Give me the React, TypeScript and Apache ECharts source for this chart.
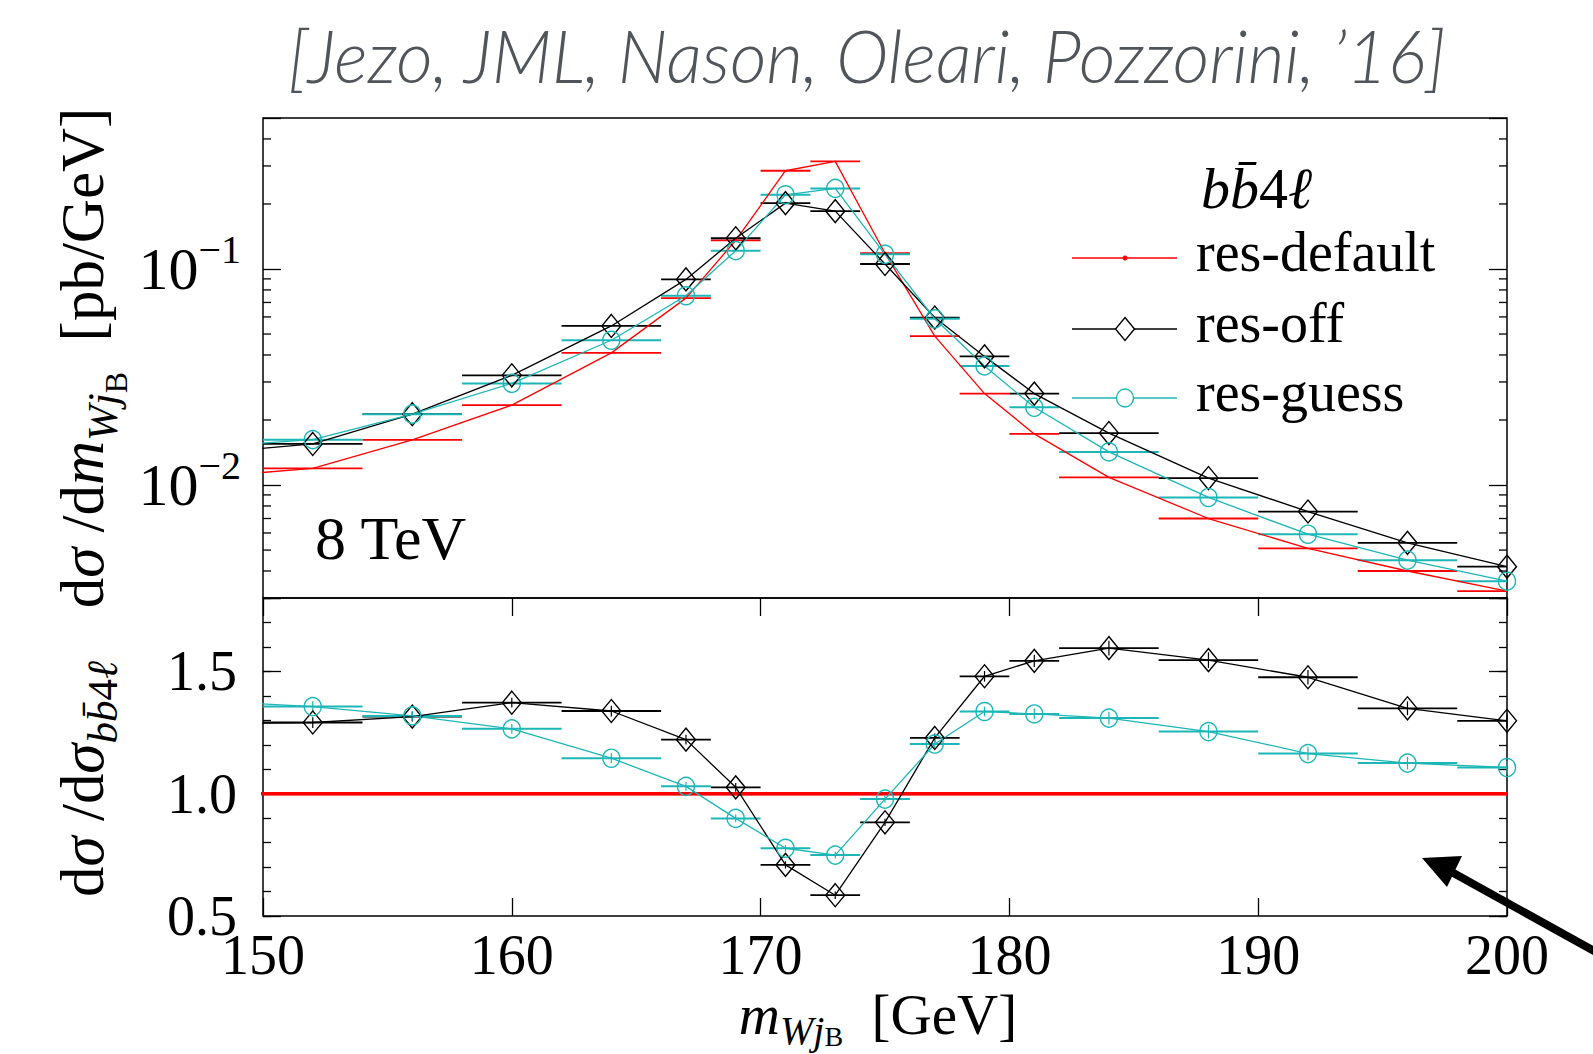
import React, { useEffect, useRef } from "react";
import * as echarts from "echarts";

// ---------- data ----------
const massCenters = [148, 152, 156, 160, 164, 167, 169, 171, 173, 175, 177, 179, 181, 184, 188, 192, 196, 200];
const binLow = [146, 150, 154, 158, 162, 166, 168, 170, 172, 174, 176, 178, 180, 182, 186, 190, 194, 198];
const binHigh = [150, 154, 158, 162, 166, 168, 170, 172, 174, 176, 178, 180, 182, 186, 190, 194, 198, 202];

const xsecDefault = [0.01096, 0.01194, 0.01618, 0.02344, 0.0409, 0.0733, 0.1358, 0.285, 0.315, 0.1183, 0.0489, 0.0265, 0.01725, 0.01085, 0.007, 0.00509, 0.004, 0.00323];
const xsecOff = [0.0141, 0.0155, 0.02128, 0.0322, 0.0545, 0.0895, 0.1388, 0.2018, 0.1853, 0.1055, 0.0596, 0.0394, 0.0265, 0.0174, 0.01077, 0.00754, 0.0054, 0.00419];
const xsecGuess = [0.0151, 0.01622, 0.02128, 0.02955, 0.0468, 0.0752, 0.1216, 0.2206, 0.236, 0.117, 0.0588, 0.0356, 0.0229, 0.01424, 0.00876, 0.00592, 0.00449, 0.00359];

const ratioDefault = [1, 1, 1, 1, 1, 1, 1, 1, 1, 1, 1, 1, 1, 1, 1, 1, 1, 1];
const ratioOff = [1.286, 1.291, 1.315, 1.372, 1.338, 1.221, 1.026, 0.709, 0.585, 0.883, 1.228, 1.48, 1.543, 1.595, 1.546, 1.476, 1.349, 1.298];
const ratioGuess = [1.378, 1.356, 1.318, 1.265, 1.145, 1.03, 0.899, 0.777, 0.749, 0.978, 1.203, 1.336, 1.326, 1.309, 1.254, 1.164, 1.125, 1.107];
const errRatioOff = [0.02, 0.022, 0.02, 0.02, 0.022, 0.02, 0.018, 0.015, 0.015, 0.015, 0.018, 0.022, 0.025, 0.03, 0.032, 0.03, 0.028, 0.03];
const errRatioGuess = [0.02, 0.022, 0.02, 0.02, 0.02, 0.018, 0.016, 0.014, 0.014, 0.014, 0.016, 0.02, 0.022, 0.026, 0.028, 0.028, 0.026, 0.028];

const logMinorTicks = [0.004, 0.005, 0.006, 0.007, 0.008, 0.009, 0.02, 0.03, 0.04, 0.05, 0.06, 0.07, 0.08, 0.09, 0.2, 0.3, 0.4];

const seriesNames = ["res-default", "res-off", "res-guess"];
const titleText = "[Jezo, JML, Nason, Oleari, Pozzorini, \u201916]";
const energyLabel = "8 TeV";

// ---------- style ----------
const W = 1593;
const H = 1054;
const SERIF = '"Liberation Serif", "DejaVu Serif", serif';
const RED = "#ff0000";
const BLACK = "#000000";
const CYAN = "#1cb6b6";
const DIAMOND_SIZE = [19, 23];
const CIRCLE_SIZE = [17, 18];

function points(vals: number[]) {
  return massCenters.map((x, i) => [x, vals[i]]);
}
function bars(vals: number[], errs?: number[]) {
  return massCenters.map((x, i) => [binLow[i], binHigh[i], vals[i], errs ? errs[i] : 0, x]);
}

function errorBarSeries(xi: number, yi: number, data: number[][], color: string, width: number) {
  return {
    type: "custom",
    xAxisIndex: xi,
    yAxisIndex: yi,
    silent: true,
    z: 3,
    data,
    encode: { x: [0, 1], y: 2 },
    renderItem: (params: any, api: any) => {
      const cs = params.coordSys;
      const lo = api.value(0);
      const hi = api.value(1);
      const v = api.value(2);
      const e = api.value(3);
      const xc = api.value(4);
      const a = api.coord([lo, v]);
      const b = api.coord([hi, v]);
      const x1 = Math.max(a[0], cs.x);
      const x2 = Math.min(b[0], cs.x + cs.width);
      const children: any[] = [];
      if (x2 > x1) {
        children.push({ type: "line", shape: { x1, y1: a[1], x2, y2: a[1] }, style: { stroke: color, lineWidth: width } });
      }
      if (e > 0) {
        const c = api.coord([xc, v - e]);
        const d = api.coord([xc, v + e]);
        if (c[0] >= cs.x - 0.5 && c[0] <= cs.x + cs.width + 0.5) {
          children.push({ type: "line", shape: { x1: c[0], y1: c[1], x2: d[0], y2: d[1] }, style: { stroke: color, lineWidth: 1.2 } });
        }
      }
      return { type: "group", children };
    },
  };
}

function lineSeries(name: string, xi: number, yi: number, data: number[][], color: string, symbol: string, symbolSize: any, lw: number) {
  return {
    type: "line",
    name,
    xAxisIndex: xi,
    yAxisIndex: yi,
    data,
    clip: true,
    z: 4,
    symbol,
    symbolSize,
    showSymbol: symbol !== "none",
    showAllSymbol: true,
    lineStyle: { color, width: lw },
    itemStyle: { color: "rgba(255,255,255,0)", borderColor: color, borderWidth: 1.4 },
    emphasis: { disabled: true },
  };
}

function fitScale(text: string, font: string, target: number) {
  const c = document.createElement("canvas").getContext("2d");
  if (!c) return 1;
  c.font = font;
  const w = c.measureText(text).width;
  return w > 0 ? target / w : 1;
}

const tickStyle = { color: "#000", width: 1.3 };

function buildOption() {
  const titleFont = "italic 300 74px Lato";
  const titleScale = fitScale(titleText, titleFont, 1160);

  const legendRows = [
    { name: seriesNames[0], color: RED, marker: "dot", y: 258 },
    { name: seriesNames[1], color: BLACK, marker: "diamond", y: 329 },
    { name: seriesNames[2], color: CYAN, marker: "circle", y: 398 },
  ];
  const legendGraphics: any[] = [];
  legendRows.forEach((r) => {
    legendGraphics.push({ type: "line", shape: { x1: 1072, y1: r.y, x2: 1177, y2: r.y }, style: { stroke: r.color, lineWidth: 1.4 } });
    if (r.marker === "dot") {
      legendGraphics.push({ type: "circle", shape: { cx: 1125, cy: r.y, r: 2.5 }, style: { fill: r.color } });
    } else if (r.marker === "diamond") {
      legendGraphics.push({
        type: "polygon",
        shape: { points: [[1125, r.y - 11.5], [1134.5, r.y], [1125, r.y + 11.5], [1115.5, r.y]] },
        style: { fill: "#fff", stroke: r.color, lineWidth: 1.4 },
      });
    } else {
      legendGraphics.push({ type: "ellipse", shape: { cx: 1125, cy: r.y, rx: 8.5, ry: 9 }, style: { fill: "#fff", stroke: r.color, lineWidth: 1.4 } });
    }
    legendGraphics.push({
      type: "text",
      x: 1196,
      y: r.y - 6,
      style: { text: r.name, fontSize: 56, fontFamily: SERIF, fill: "#000", verticalAlign: "middle", align: "left" },
    });
  });

  const yTitleRich = {
    r: { fontSize: 61, fontFamily: SERIF, color: "#000", lineHeight: 104 },
    i: { fontSize: 61, fontFamily: SERIF, fontStyle: "italic", color: "#000", lineHeight: 104 },
    s: { fontSize: 43, fontFamily: SERIF, fontStyle: "italic", color: "#000", verticalAlign: "bottom", padding: [0, 0, 10, 0] },
    sr: { fontSize: 43, fontFamily: SERIF, color: "#000", verticalAlign: "bottom", padding: [0, 0, 10, 0] },
    ss: { fontSize: 32, fontFamily: SERIF, color: "#000", verticalAlign: "bottom", padding: [0, 0, 2, 0] },
  };
  const xTitleRich = {
    r: { fontSize: 57, fontFamily: SERIF, color: "#000", lineHeight: 72 },
    i: { fontSize: 57, fontFamily: SERIF, fontStyle: "italic", color: "#000", lineHeight: 72 },
    s: { fontSize: 40, fontFamily: SERIF, fontStyle: "italic", color: "#000", verticalAlign: "bottom" },
    ss: { fontSize: 28, fontFamily: SERIF, color: "#000", verticalAlign: "bottom" },
  };

  return {
    animation: false,
    backgroundColor: "#ffffff",
    grid: [
      { left: 263, top: 118, width: 1244, height: 480, show: true, borderColor: "#000", borderWidth: 1.5, backgroundColor: "transparent", outerBoundsMode: "none" },
      { left: 263, top: 598, width: 1244, height: 318, show: true, borderColor: "#000", borderWidth: 1.5, backgroundColor: "transparent", outerBoundsMode: "none" },
    ],
    xAxis: [
      { gridIndex: 0, type: "value", min: 150, max: 200, interval: 10, axisLine: { show: false }, axisTick: { show: false }, axisLabel: { show: false }, splitLine: { show: false } },
      {
        gridIndex: 1, type: "value", position: "bottom", min: 150, max: 200, interval: 10,
        axisLine: { show: false }, splitLine: { show: false },
        axisTick: { inside: true, length: 18, lineStyle: tickStyle },
        axisLabel: { fontSize: 56, lineHeight: 46, fontFamily: SERIF, color: "#000", margin: 16 },
      },
      {
        gridIndex: 1, type: "value", position: "top", min: 150, max: 200, interval: 10,
        axisLine: { show: false }, splitLine: { show: false },
        axisTick: { inside: true, length: 18, lineStyle: tickStyle }, axisLabel: { show: false },
      },
    ],
    yAxis: [
      {
        gridIndex: 0, type: "log", min: 0.003, max: 0.5, position: "left",
        axisLine: { show: false }, splitLine: { show: false },
        axisTick: { inside: true, length: 18, lineStyle: tickStyle },
        axisLabel: {
          margin: 22,
          formatter: (v: number) => {
            const l = Math.log10(v);
            const e = Math.round(l);
            if (Math.abs(l - e) > 1e-6) return "";
            return `{b|10}{s|\u2212${-e}}`;
          },
          rich: {
            b: { fontSize: 60, fontFamily: SERIF, color: "#000", lineHeight: 80 },
            s: { fontSize: 40, fontFamily: SERIF, color: "#000", verticalAlign: "top" },
          },
        },
      },
      {
        gridIndex: 0, type: "log", min: 0.003, max: 0.5, position: "right",
        axisLine: { show: false }, splitLine: { show: false },
        axisTick: { inside: true, length: 18, lineStyle: tickStyle }, axisLabel: { show: false },
      },
      {
        gridIndex: 1, type: "value", min: 0.5, max: 1.8, interval: 0.5, position: "left",
        axisLine: { show: false }, splitLine: { show: false },
        axisTick: { inside: true, length: 18, lineStyle: tickStyle },
        axisLabel: {
          fontSize: 56, fontFamily: SERIF, color: "#000", margin: 26,
          formatter: (v: number) => (Math.abs(v - 1.8) < 1e-6 ? "" : v.toFixed(1)),
        },
      },
      {
        gridIndex: 1, type: "value", min: 0.5, max: 1.8, interval: 0.1, position: "left",
        axisLine: { show: false }, splitLine: { show: false },
        axisTick: { inside: true, length: 8, lineStyle: tickStyle }, axisLabel: { show: false },
      },
      {
        gridIndex: 1, type: "value", min: 0.5, max: 1.8, interval: 0.5, position: "right",
        axisLine: { show: false }, splitLine: { show: false },
        axisTick: { inside: true, length: 18, lineStyle: tickStyle }, axisLabel: { show: false },
      },
      {
        gridIndex: 1, type: "value", min: 0.5, max: 1.8, interval: 0.1, position: "right",
        axisLine: { show: false }, splitLine: { show: false },
        axisTick: { inside: true, length: 8, lineStyle: tickStyle }, axisLabel: { show: false },
      },
    ],
    series: [
      // log minor ticks (left and right)
      {
        type: "custom", xAxisIndex: 0, yAxisIndex: 0, silent: true, z: 5,
        data: logMinorTicks.map((v) => [150, v]),
        encode: { x: 0, y: 1 },
        renderItem: (params: any, api: any) => {
          const cs = params.coordSys;
          const y = api.coord([api.value(0), api.value(1)])[1];
          return {
            type: "group",
            children: [
              { type: "line", shape: { x1: cs.x, y1: y, x2: cs.x + 8, y2: y }, style: { stroke: "#000", lineWidth: 1.3 } },
              { type: "line", shape: { x1: cs.x + cs.width - 8, y1: y, x2: cs.x + cs.width, y2: y }, style: { stroke: "#000", lineWidth: 1.3 } },
            ],
          };
        },
      },
      // top panel
      errorBarSeries(0, 0, bars(xsecDefault), RED, 1.8),
      lineSeries(seriesNames[0], 0, 0, points(xsecDefault), RED, "none", 3, 1.3),
      errorBarSeries(0, 0, bars(xsecOff), BLACK, 1.8),
      lineSeries(seriesNames[1], 0, 0, points(xsecOff), BLACK, "diamond", DIAMOND_SIZE, 1.3),
      errorBarSeries(0, 0, bars(xsecGuess), CYAN, 2),
      lineSeries(seriesNames[2], 0, 0, points(xsecGuess), CYAN, "circle", CIRCLE_SIZE, 1.3),
      // ratio panel
      errorBarSeries(1, 2, bars(ratioDefault), RED, 3),
      lineSeries(seriesNames[0], 1, 2, points(ratioDefault), RED, "none", 3, 3.5),
      errorBarSeries(1, 2, bars(ratioOff, errRatioOff), BLACK, 1.8),
      lineSeries(seriesNames[1], 1, 2, points(ratioOff), BLACK, "diamond", DIAMOND_SIZE, 1.3),
      errorBarSeries(1, 2, bars(ratioGuess, errRatioGuess), CYAN, 2),
      lineSeries(seriesNames[2], 1, 2, points(ratioGuess), CYAN, "circle", CIRCLE_SIZE, 1.3),
    ],
    graphic: [
      {
        type: "text", x: 288, y: 54, scaleX: titleScale, z: 10,
        style: { text: titleText, font: titleFont, fill: "#50555c", verticalAlign: "middle", align: "left" },
      },
      {
        type: "text", x: 315, y: 538, z: 10,
        style: { text: energyLabel, fontSize: 62, fontFamily: SERIF, fill: "#000", verticalAlign: "middle", align: "left" },
      },
      {
        type: "text", x: 1201, y: 188, z: 10,
        style: {
          text: "{i|bb\u0304}{r|4}{i|\u2113}", verticalAlign: "middle", align: "left",
          rich: {
            i: { fontSize: 58, fontFamily: SERIF, fontStyle: "italic", fill: "#000" },
            r: { fontSize: 58, fontFamily: SERIF, fill: "#000" },
          },
        },
      },
      ...legendGraphics,
      // y title (top panel)
      {
        type: "text", x: 82, y: 358, rotation: Math.PI / 2, z: 10,
        style: {
          text: "{r|d}{i|\u03c3}{r| /d}{i|m}{s|Wj}{ss|B}{r|  [pb/GeV]}",
          align: "center", verticalAlign: "middle",
          rich: yTitleRich,
        },
      },
      // y title (ratio panel)
      {
        type: "text", x: 82, y: 779, rotation: Math.PI / 2, z: 10,
        style: {
          text: "{r|d}{i|\u03c3}{r| /d}{i|\u03c3}{s|bb\u0304}{sr|4}{s|\u2113}",
          align: "center", verticalAlign: "middle",
          rich: yTitleRich,
        },
      },
      // x title
      {
        type: "text", x: 878, y: 1014, z: 10,
        style: {
          text: "{i|m}{s|Wj}{ss|B}{r|  [GeV]}",
          align: "center", verticalAlign: "middle",
          rich: xTitleRich,
        },
      },
      // arrow
      { type: "line", z: 20, shape: { x1: 1605, y1: 957, x2: 1448, y2: 870 }, style: { stroke: "#000", lineWidth: 8 } },
      { type: "polygon", z: 20, shape: { points: [[1422, 858], [1462, 856], [1447, 887]] }, style: { fill: "#000" } },
    ],
  };
}

export default function App() {
  const ref = useRef<HTMLDivElement>(null);
  useEffect(() => {
    if (!ref.current) return;
    const chart = echarts.init(ref.current, null, { renderer: "svg", width: W, height: H });
    chart.setOption(buildOption() as any);
    return () => chart.dispose();
  }, []);
  return <div ref={ref} style={{ position: "fixed", left: 0, top: 0, width: W, height: H, background: "#fff" }} />;
}
